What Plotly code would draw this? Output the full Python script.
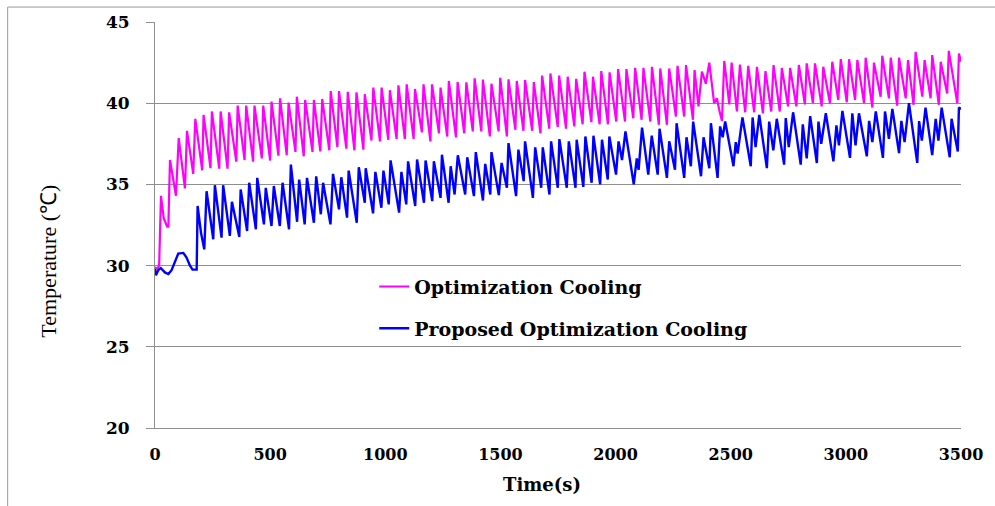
import plotly.graph_objects as go

# ---- Data (key points of each curve) ----
opt_time = [0, 10, 18, 26, 38, 53, 58, 65, 91, 103, 130, 139, 166, 175, 205, 211, 241, 247, 279, 285,
            315, 322, 353, 359, 389, 396, 426, 432, 464, 470, 500, 506, 536, 543, 572, 580, 610, 616, 646, 652,
            684, 690, 718, 726, 757, 763, 792, 799, 831, 837, 866, 875, 905, 911, 940, 948, 977, 984, 1013, 1020,
            1049, 1057, 1085, 1093, 1123, 1129, 1159, 1166, 1196, 1203, 1233, 1240, 1269, 1276, 1307, 1314,
            1343, 1352, 1380, 1388, 1417, 1424, 1454, 1461, 1492, 1499, 1528, 1535, 1565, 1571, 1600, 1607,
            1638, 1645, 1674, 1681, 1712, 1717, 1749, 1755, 1785, 1792, 1821, 1829, 1857, 1865, 1895, 1902,
            1931, 1938, 1967, 1974, 2003, 2011, 2041, 2047, 2077, 2085, 2113, 2121, 2151, 2158, 2188, 2194,
            2223, 2233, 2262, 2269, 2298, 2306, 2336, 2343, 2360, 2375, 2392, 2407, 2428, 2440, 2450, 2462,
            2472, 2494, 2504, 2527, 2540, 2563, 2576, 2602, 2614, 2640, 2651, 2676, 2686, 2713, 2722, 2749,
            2758, 2785, 2796, 2822, 2830, 2857, 2866, 2895, 2902, 2931, 2941, 2967, 2978, 3004, 3014, 3040,
            3050, 3079, 3086, 3115, 3122, 3151, 3158, 3187, 3195, 3223, 3231, 3260, 3270, 3294, 3303, 3332,
            3342, 3368, 3375, 3404, 3412, 3440, 3447, 3484, 3491, 3500]
opt_temp = [29.9, 29.8, 30.0, 34.3, 32.9, 32.4, 32.4, 36.5, 34.3, 37.85, 34.75, 38.3, 35.65, 39.04, 35.87, 39.28, 36.0, 39.49, 35.97, 39.49,
            35.97, 39.44, 36.4, 39.85, 36.5, 39.85, 36.4, 39.85, 36.6, 39.85, 36.47, 40.1, 36.77, 40.3, 36.8, 40.04, 37.0, 40.4, 36.73, 40.2,
            37.0, 40.2, 37.03, 40.26, 37.1, 40.75, 37.3, 40.75, 37.2, 40.7, 37.1, 40.67, 37.14, 40.55, 37.7, 40.96, 37.65, 40.96, 37.75, 40.8,
            37.8, 41.1, 37.8, 41.16, 37.8, 40.88, 38.2, 41.16, 37.65, 41.16, 38.15, 40.96, 37.95, 41.37, 37.9, 41.3,
            38.15, 41.28, 38.26, 41.53, 38.26, 41.45, 37.95, 41.2, 38.26, 41.57, 37.95, 41.47, 38.36, 41.37, 38.3, 41.43,
            38.3, 41.3, 38.15, 41.7, 38.43, 41.83, 38.53, 41.7, 38.43, 41.63, 38.57, 41.5, 38.7, 41.94, 38.83, 41.63,
            38.7, 41.98, 38.7, 41.9, 38.87, 42.1, 38.87, 42.1, 39.07, 42.18, 38.98, 42.18, 38.87, 42.24, 38.67, 42.14,
            38.67, 42.14, 39.18, 42.3, 39.18, 42.35, 38.98, 42.04, 39.8, 41.94, 41.2, 42.5, 40.0, 40.3, 39.6, 38.9,
            42.6, 39.93, 42.5, 39.49, 42.38, 39.44, 42.3, 39.44, 42.24, 39.38, 41.98, 39.49, 42.35, 39.49, 42.18, 39.8,
            42.18, 39.8, 42.35, 39.93, 42.45, 40.0, 42.45, 39.8, 42.24, 40.0, 42.55, 40.2, 42.71, 40.06, 42.71, 40.2,
            42.65, 40.0, 42.8, 39.73, 42.5, 40.4, 42.92, 40.3, 42.8, 39.85, 42.8, 40.3, 42.65, 39.9, 43.16, 40.4,
            42.65, 40.3, 42.96, 39.9, 42.55, 40.6, 43.22, 40.0, 43.06, 42.55]

prop_time = [0, 4, 14, 25, 43, 58, 72, 87, 101, 123, 137, 152, 163, 181, 185, 200, 214, 224, 253, 260,
             289, 296, 325, 334, 366, 372, 400, 409, 438, 444, 473, 481, 506, 516, 542, 554, 582, 590, 617, 626,
             650, 660, 690, 700, 720, 730, 762, 773, 799, 809, 834, 841, 876, 885, 911, 915, 947, 957, 983, 992,
             1015, 1023, 1060, 1070, 1091, 1099, 1130, 1138, 1168, 1175, 1204, 1211, 1240, 1246, 1275, 1284,
             1301, 1315, 1347, 1356, 1385, 1393, 1424, 1434, 1456, 1461, 1493, 1505, 1528, 1535, 1568, 1578,
             1601, 1607, 1641, 1651, 1677, 1684, 1713, 1720, 1749, 1756, 1788, 1797, 1826, 1831, 1860, 1869,
             1896, 1904, 1933, 1941, 1966, 1973, 2002, 2013, 2028, 2043, 2079, 2092, 2100, 2115, 2142, 2157,
             2183, 2191, 2223, 2233, 2258, 2265, 2298, 2308, 2327, 2337, 2371, 2382, 2407, 2414, 2443, 2454,
             2465, 2476, 2512, 2522, 2530, 2551, 2587, 2595, 2608, 2624, 2657, 2667, 2685, 2700, 2732, 2739,
             2752, 2771, 2804, 2813, 2830, 2845, 2874, 2881, 2893, 2913, 2946, 2959, 2970, 2985, 3018, 3028,
             3042, 3057, 3091, 3101, 3115, 3130, 3161, 3170, 3187, 3202, 3231, 3241, 3255, 3274, 3310, 3318,
             3330, 3346, 3375, 3390, 3402, 3416, 3451, 3459, 3486, 3491, 3500]
prop_temp = [29.79, 29.4, 29.72, 29.85, 29.58, 29.48, 29.72, 30.3, 30.74, 30.78, 30.5, 29.99, 29.75, 29.75, 33.67, 32.0, 31.0, 34.58, 31.62, 34.95,
             31.72, 34.95, 31.83, 33.93, 31.77, 34.69, 32.13, 35.1, 32.24, 35.4, 32.54, 34.79, 32.44, 34.9, 32.44, 35.1, 32.24, 36.22, 32.7, 35.3,
             32.54, 35.4, 32.64, 35.5, 33.16, 35.1, 32.54, 35.65, 33.46, 35.44, 32.95, 35.85, 32.64, 36.06, 33.87, 36.0, 33.22, 35.77, 33.56, 35.85,
             33.77, 36.48, 33.26, 35.77, 33.77, 36.42, 33.67, 36.53, 33.87, 36.47, 33.97, 36.42, 34.17, 36.83, 33.87, 36.12,
             34.38, 36.79, 34.38, 36.67, 34.28, 36.99, 34.01, 36.26, 34.38, 36.99, 34.34, 36.32, 34.8, 37.54, 34.28, 37.14,
             35.2, 37.65, 34.17, 37.28, 34.79, 37.28, 34.38, 37.65, 34.79, 37.79, 34.79, 37.65, 34.79, 37.75, 34.85, 37.95,
             35.1, 38.0, 35.0, 37.75, 35.3, 37.95, 35.6, 37.65, 36.5, 38.26, 35.0, 36.6, 35.9, 38.5, 35.6, 38.0,
             35.6, 38.43, 35.4, 37.65, 35.9, 38.77, 35.4, 37.9, 36.12, 38.87, 35.5, 37.9, 36.0, 38.77, 35.4, 38.57,
             37.9, 38.87, 36.12, 37.6, 36.9, 39.12, 36.12, 39.12, 37.3, 39.28, 36.0, 38.87, 37.1, 39.04, 36.22, 39.08,
             37.3, 39.44, 36.22, 38.7, 36.6, 39.2, 36.32, 38.87, 37.5, 39.38, 36.42, 38.63, 37.4, 39.53, 36.63, 39.38,
             37.4, 39.38, 36.73, 38.91, 37.6, 39.49, 36.63, 39.49, 37.8, 39.65, 36.93, 38.91, 37.6, 40.0, 36.32, 38.9,
             37.7, 39.73, 36.8, 39.04, 37.7, 39.73, 36.67, 39.04, 37.03, 39.73, 39.65]

x_ticks = [0, 500, 1000, 1500, 2000, 2500, 3000, 3500]
y_ticks = [20, 25, 30, 35, 40, 45]
series_names = ["Optimization Cooling", "Proposed Optimization Cooling"]

fig = go.Figure()
fig.add_trace(go.Scatter(x=opt_time, y=opt_temp, mode="lines", name=series_names[0],
                         legendgroup="a", line=dict(color="#FF00FF", width=2.2)))
fig.add_trace(go.Scatter(x=prop_time, y=prop_temp, mode="lines", name=series_names[1],
                         legendgroup="b", line=dict(color="#0000FF", width=2.4)))

xtick_font = dict(family="DejaVu Serif", size=16, color="black", weight="bold")
ytick_font = dict(family="DejaVu Serif", size=17, color="black", weight="bold")

fig.update_layout(
    width=995, height=506,
    margin=dict(l=155, r=33, t=20, b=78),
    paper_bgcolor="white", plot_bgcolor="white",
    showlegend=True,
    legend=dict(x=0.272, y=0.395, xanchor="left", yanchor="top",
                bgcolor="rgba(0,0,0,0)", borderwidth=0,
                font=dict(family="DejaVu Serif", size=19, color="black", weight="bold"),
                tracegroupgap=14, itemwidth=30, traceorder="grouped"),
    xaxis=dict(range=[0, 3500], tickvals=x_ticks, ticktext=[str(v) for v in x_ticks],
               showgrid=False, zeroline=False, showline=True, linecolor="#8f8f8f", linewidth=1,
               ticks="", tickfont=xtick_font, ticklabelstandoff=12),
    yaxis=dict(range=[20, 45], tickvals=y_ticks, ticktext=[str(v) for v in y_ticks],
               showgrid=True, gridcolor="#8f8f8f", gridwidth=1, zeroline=False,
               showline=True, linecolor="#8f8f8f", linewidth=1,
               ticks="outside", ticklen=8, tickcolor="#8f8f8f", tickwidth=1,
               tickfont=ytick_font, ticklabelstandoff=13),
    annotations=[
        dict(text="Time(s)", xref="paper", yref="paper", x=0.48, y=-0.14,
             xanchor="center", yanchor="middle", showarrow=False,
             font=dict(family="DejaVu Serif", size=18, color="black", weight="bold")),
        dict(text="Temperature (℃)", xref="paper", yref="paper", x=-0.1326, y=0.41,
             xanchor="center", yanchor="middle", textangle=-90, showarrow=False,
             font=dict(family="Liberation Serif", size=22, color="black")),
    ],
    shapes=[dict(type="rect", xref="paper", yref="paper", x0=-0.1828, x1=1.2, y0=-0.4, y1=1.0368,
                 line=dict(color="#9a9a9a", width=1), fillcolor="rgba(0,0,0,0)", layer="below")],
)

fig.write_html("out.html")
